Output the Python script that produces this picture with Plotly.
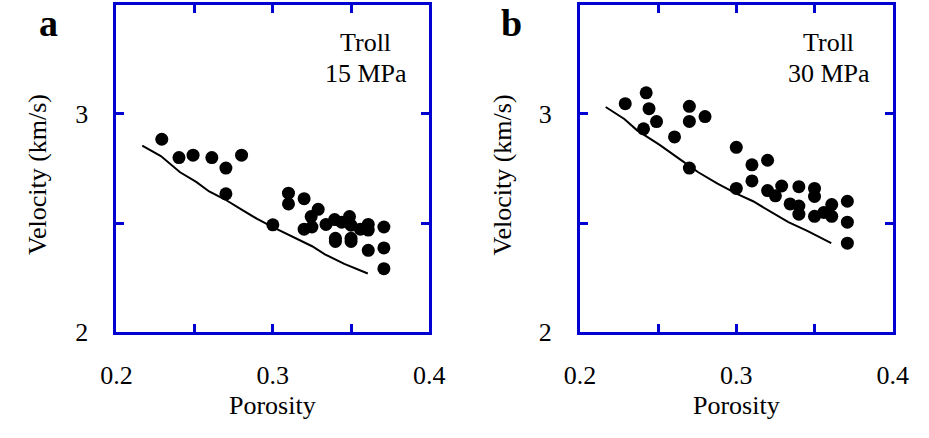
import plotly.graph_objects as go

# Panel a: Troll 15 MPa
por_a = [0.229, 0.240, 0.249, 0.261, 0.270, 0.280, 0.270, 0.300, 0.310, 0.310,
         0.320, 0.329, 0.3245, 0.320, 0.325, 0.334, 0.3395, 0.344, 0.349, 0.350,
         0.356, 0.361, 0.361, 0.371, 0.340, 0.350, 0.361, 0.371, 0.371, 0.340, 0.350]
vel_a = [2.884, 2.800, 2.811, 2.800, 2.752, 2.811, 2.634, 2.492, 2.637, 2.588,
         2.612, 2.563, 2.530, 2.472, 2.482, 2.494, 2.516, 2.504, 2.530, 2.490,
         2.472, 2.494, 2.468, 2.482, 2.416, 2.416, 2.375, 2.386, 2.291, 2.430, 2.430]
line_por_a = [0.2165, 0.2284, 0.2407, 0.251, 0.2593, 0.2695, 0.2798, 0.290,
              0.300, 0.3107, 0.3251, 0.3333, 0.3457, 0.3607]
line_vel_a = [2.855, 2.807, 2.733, 2.689, 2.645, 2.608, 2.563, 2.519,
              2.482, 2.446, 2.394, 2.357, 2.313, 2.269]

# Panel b: Troll 30 MPa
por_b = [0.229, 0.2424, 0.2442, 0.249, 0.2407, 0.2605, 0.270, 0.270, 0.280, 0.270,
         0.300, 0.310, 0.320, 0.310, 0.300, 0.320, 0.325, 0.329, 0.340, 0.350,
         0.3344, 0.340, 0.340, 0.350, 0.350, 0.356, 0.361, 0.361, 0.371, 0.371, 0.371]
vel_b = [3.047, 3.097, 3.024, 2.965, 2.932, 2.895, 3.035, 2.966, 2.988, 2.752,
         2.847, 2.767, 2.788, 2.693, 2.659, 2.649, 2.625, 2.670, 2.667, 2.659,
         2.588, 2.578, 2.541, 2.622, 2.531, 2.549, 2.585, 2.531, 2.600, 2.504, 2.408]
line_por_b = [0.2165, 0.2284, 0.2366, 0.251, 0.2654, 0.2757, 0.288, 0.3004,
              0.3107, 0.321, 0.3333, 0.3457, 0.3607]
line_vel_b = [3.032, 2.977, 2.925, 2.858, 2.785, 2.733, 2.681, 2.634,
              2.600, 2.556, 2.504, 2.463, 2.408]

x_ticks = [0.2, 0.25, 0.3, 0.35, 0.4]
x_ticktext = ["0.2", "", "0.3", "", "0.4"]
y_ticks = [2, 2.5, 3, 3.5]
y_ticktext = ["2", "", "3", ""]

W, H = 929, 438
FRAME = "#0000d0"
FONT = "Liberation Serif, Times New Roman, serif"

fig = go.Figure()
fig.add_trace(go.Scatter(x=line_por_a, y=line_vel_a, mode="lines",
                         line=dict(color="black", width=2), xaxis="x", yaxis="y"))
fig.add_trace(go.Scatter(x=por_a, y=vel_a, mode="markers",
                         marker=dict(color="black", size=13), xaxis="x", yaxis="y"))
fig.add_trace(go.Scatter(x=line_por_b, y=line_vel_b, mode="lines",
                         line=dict(color="black", width=2), xaxis="x2", yaxis="y2"))
fig.add_trace(go.Scatter(x=por_b, y=vel_b, mode="markers",
                         marker=dict(color="black", size=13), xaxis="x2", yaxis="y2"))

def xax(domain, anchor):
    return dict(domain=domain, anchor=anchor, range=[0.2, 0.4], tickmode="array",
                tickvals=x_ticks, ticktext=x_ticktext, ticks="inside", ticklen=8,
                tickwidth=2.5, tickcolor=FRAME, showline=True, linecolor=FRAME,
                linewidth=3, mirror="allticks", showgrid=False, zeroline=False,
                ticklabelstandoff=18, tickfont=dict(family=FONT, size=26, color="black"))

def yax(anchor):
    return dict(domain=[94 / H, 433 / H], anchor=anchor, range=[2, 3.5], tickmode="array",
                tickvals=y_ticks, ticktext=y_ticktext, ticks="inside", ticklen=8,
                tickwidth=2.5, tickcolor=FRAME, showline=True, linecolor=FRAME,
                linewidth=3, mirror="allticks", showgrid=False, zeroline=False,
                ticklabelstandoff=20, tickfont=dict(family=FONT, size=26, color="black"))

def px(x):
    return x / W

def py(y):
    return 1 - y / H

ann = []
def add(text, x, y, size=26, angle=0, bold=False, yanchor="middle"):
    ann.append(dict(text=f"<b>{text}</b>" if bold else text, x=px(x), y=py(y),
                    xref="paper", yref="paper", showarrow=False, textangle=angle,
                    xanchor="center", yanchor=yanchor,
                    font=dict(family=FONT, size=size, color="black")))

add("a", 34, 0, size=38, bold=True, yanchor="top")
add("b", 513, 0, size=38, bold=True, yanchor="top")
add("Troll", 362, 44)
add("15 MPa", 362, 76)
add("Troll", 842, 44)
add("30 MPa", 842, 76)
add("Velocity (km/s)", 23, 181, angle=-90)
add("Velocity (km/s)", 504, 181, angle=-90)
add("Porosity", 266, 420)
add("Porosity", 746, 420)

fig.update_layout(
    width=W, height=H, margin=dict(l=0, r=0, t=0, b=0),
    paper_bgcolor="white", plot_bgcolor="white", showlegend=False,
    xaxis=xax([104 / W, 428 / W], "y"), yaxis=yax("x"),
    xaxis2=xax([584 / W, 908 / W], "y2"), yaxis2=yax("x2"),
    annotations=ann,
)
fig.write_html("out.html")
